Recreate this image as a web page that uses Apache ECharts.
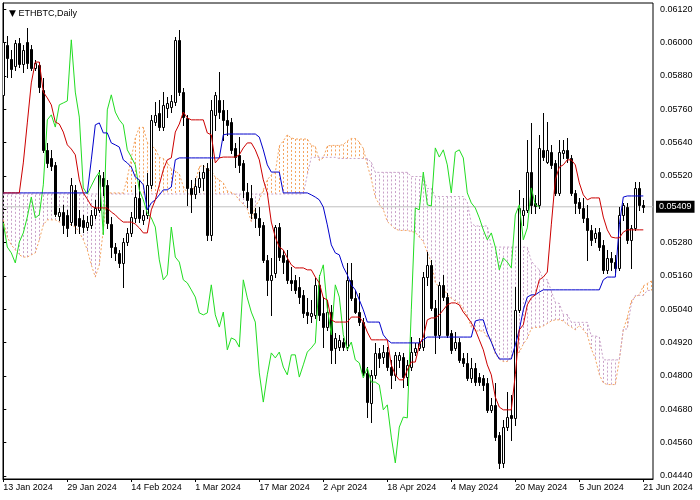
<!DOCTYPE html>
<html><head><meta charset="utf-8">
<script src="https://cdn.jsdelivr.net/npm/echarts@6.0.0/dist/echarts.min.js"></script>
<style>html,body{margin:0;padding:0;background:#fff}#c{width:700px;height:500px}</style>
</head><body><div id="c"></div>
<script>
const chartTitle = 'ETHBTC,Daily';
const tickDays = [0,16,32,48,64,80,96,112,128,144,160];
const tickLabels = ['13 Jan 2024','29 Jan 2024','14 Feb 2024','1 Mar 2024','17 Mar 2024','2 Apr 2024','18 Apr 2024','4 May 2024','20 May 2024','5 Jun 2024','21 Jun 2024'];
const priceTicks = [0.04440,0.04560,0.04680,0.04800,0.04920,0.05040,0.05160,0.05280,0.05400,0.05520,0.05640,0.05760,0.05880,0.06000,0.06120];
const priceLabelValues = [0.04440,0.04560,0.04680,0.04800,0.04920,0.05040,0.05160,0.05280,0.05520,0.05640,0.05760,0.05880,0.06000,0.06120];
const priceLabels = ['0.04440','0.04560','0.04680','0.04800','0.04920','0.05040','0.05160','0.05280','0.05520','0.05640','0.05760','0.05880','0.06000','0.06120'];
const lastPrice = 0.05409;
const xMin = -0.075, xMax = 162.425;

const open = [
0.05812,0.05992,0.05941,0.05916,0.05999,0.05923,0.06002,0.05977,0.05909,0.05920,
0.05830,0.05614,0.05585,0.05560,0.05376,0.05390,0.05380,0.05354,0.05470,0.05369,
0.05362,0.05336,0.05344,0.05380,0.05398,0.05513,0.05488,0.05347,0.05264,0.05243,
0.05207,0.05282,0.05315,0.05369,0.05441,0.05362,0.05380,0.05488,0.05714,0.05747,
0.05696,0.05765,0.05768,0.05786,0.06010,0.05822,0.05729,0.05477,0.05455,0.05480,
0.05513,0.05549,0.05308,0.05740,0.05794,0.05758,0.05722,0.05714,0.05621,0.05596,
0.05567,0.05462,0.05441,0.05387,0.05369,0.05344,0.05218,0.05146,0.05171,0.05336,
0.05236,0.05218,0.05146,0.05146,0.05120,0.05092,0.05030,0.05016,0.05020,0.05128,
0.05027,0.04976,0.05030,0.04901,0.04904,0.04922,0.04904,0.05146,0.05081,0.05030,
0.04994,0.04811,0.04703,0.04804,0.04883,0.04868,0.04886,0.04832,0.04804,0.04858,
0.04868,0.04796,0.04832,0.04886,0.04901,0.04904,0.05156,0.05200,0.05045,0.04948,
0.05128,0.05084,0.04955,0.04901,0.04922,0.04865,0.04847,0.04793,0.04829,0.04796,
0.04793,0.04775,0.04678,0.04696,0.04588,0.04487,0.04616,0.04660,0.04649,0.05038,
0.05380,0.05398,0.05534,0.05423,0.05416,0.05614,0.05570,0.05606,0.05567,0.05459,
0.05603,0.05614,0.05585,0.05459,0.05426,0.05405,0.05369,0.05326,0.05297,0.05318,
0.05272,0.05182,0.05225,0.05210,0.05189,0.05380,0.05408,0.05290,0.05333,0.05477,
0.05416];
const close = [
0.06002,0.05945,0.05905,0.05999,0.05923,0.05974,0.05927,0.05909,0.05927,0.05840,
0.05614,0.05567,0.05556,0.05383,0.05390,0.05344,0.05333,0.05488,0.05344,0.05340,
0.05336,0.05354,0.05380,0.05405,0.05524,0.05484,0.05351,0.05264,0.05243,0.05207,
0.05282,0.05315,0.05372,0.05444,0.05369,0.05380,0.05488,0.05722,0.05740,0.05696,
0.05776,0.05783,0.05790,0.06010,0.05822,0.05732,0.05477,0.05455,0.05484,0.05513,
0.05534,0.05308,0.05758,0.05812,0.05750,0.05722,0.05704,0.05614,0.05588,0.05560,
0.05470,0.05434,0.05387,0.05369,0.05336,0.05218,0.05146,0.05164,0.05336,0.05228,
0.05210,0.05146,0.05135,0.05110,0.05084,0.05027,0.05020,0.05027,0.05128,0.05020,
0.04976,0.05030,0.04894,0.04937,0.04930,0.04904,0.05146,0.05081,0.05030,0.04994,
0.04811,0.04706,0.04804,0.04883,0.04865,0.04886,0.04832,0.04804,0.04876,0.04876,
0.04796,0.04840,0.04886,0.04901,0.04919,0.05156,0.05200,0.05045,0.04948,0.05128,
0.05084,0.04948,0.04894,0.04922,0.04858,0.04847,0.04793,0.04829,0.04778,0.04778,
0.04768,0.04678,0.04696,0.04580,0.04487,0.04616,0.04652,0.04649,0.05038,0.05405,
0.05398,0.05534,0.05416,0.05412,0.05621,0.05588,0.05614,0.05560,0.05459,0.05606,
0.05614,0.05585,0.05459,0.05423,0.05405,0.05369,0.05326,0.05290,0.05315,0.05264,
0.05182,0.05225,0.05210,0.05189,0.05380,0.05416,0.05290,0.05333,0.05477,0.05416,
0.05409];
const low = [
0.05804,0.05876,0.05876,0.05902,0.05912,0.05894,0.05909,0.05902,0.05902,0.05822,
0.05606,0.05552,0.05542,0.05376,0.05362,0.05315,0.05304,0.05344,0.05315,0.05315,
0.05318,0.05326,0.05333,0.05369,0.05390,0.05452,0.05333,0.05228,0.05218,0.05192,
0.05120,0.05272,0.05304,0.05354,0.05354,0.05347,0.05369,0.05477,0.05704,0.05686,
0.05686,0.05732,0.05750,0.05776,0.05812,0.05704,0.05416,0.05390,0.05441,0.05462,
0.05470,0.05290,0.05290,0.05686,0.05729,0.05650,0.05668,0.05603,0.05552,0.05534,
0.05444,0.05408,0.05369,0.05336,0.05308,0.05210,0.05092,0.05020,0.05156,0.05218,
0.05171,0.05135,0.05110,0.05099,0.05063,0.05012,0.04991,0.04994,0.05009,0.05002,
0.04904,0.04966,0.04847,0.04847,0.04894,0.04894,0.04894,0.05074,0.05027,0.04984,
0.04804,0.04652,0.04634,0.04793,0.04832,0.04847,0.04822,0.04757,0.04786,0.04832,
0.04760,0.04768,0.04822,0.04876,0.04894,0.04894,0.05128,0.05038,0.04883,0.04937,
0.05074,0.04940,0.04883,0.04894,0.04850,0.04836,0.04786,0.04778,0.04768,0.04768,
0.04750,0.04670,0.04670,0.04570,0.04469,0.04472,0.04606,0.04570,0.04624,0.05030,
0.05344,0.05390,0.05387,0.05387,0.05405,0.05578,0.05567,0.05549,0.05452,0.05452,
0.05585,0.05570,0.05452,0.05387,0.05387,0.05354,0.05218,0.05272,0.05282,0.05254,
0.05171,0.05171,0.05182,0.05174,0.05182,0.05362,0.05279,0.05189,0.05326,0.05398,
0.05390];
const high = [
0.06028,0.06024,0.05974,0.06010,0.06017,0.05992,0.06053,0.05992,0.05938,0.05930,
0.05873,0.05639,0.05614,0.05570,0.05405,0.05416,0.05398,0.05513,0.05488,0.05398,
0.05380,0.05376,0.05398,0.05434,0.05542,0.05534,0.05506,0.05372,0.05279,0.05254,
0.05297,0.05333,0.05390,0.05488,0.05506,0.05398,0.05531,0.05740,0.05786,0.05794,
0.05822,0.05804,0.05812,0.06020,0.06046,0.05837,0.05740,0.05506,0.05513,0.05534,
0.05560,0.05567,0.05794,0.05822,0.05894,0.05794,0.05758,0.05729,0.05639,0.05660,
0.05578,0.05495,0.05488,0.05405,0.05408,0.05354,0.05236,0.05225,0.05344,0.05351,
0.05254,0.05254,0.05192,0.05164,0.05156,0.05110,0.05081,0.05074,0.05153,0.05164,
0.05084,0.05074,0.05056,0.04955,0.04948,0.04937,0.05207,0.05207,0.05110,0.05099,
0.05009,0.04832,0.04822,0.04919,0.04901,0.04912,0.04904,0.04858,0.04886,0.04886,
0.04883,0.04858,0.04940,0.04919,0.04937,0.05174,0.05246,0.05218,0.05074,0.05138,
0.05164,0.05099,0.04966,0.04958,0.04937,0.04883,0.04883,0.04865,0.04847,0.04811,
0.04804,0.04793,0.04721,0.04775,0.04598,0.04642,0.04742,0.04732,0.05120,0.05470,
0.05441,0.05650,0.05711,0.05452,0.05668,0.05747,0.05714,0.05632,0.05578,0.05650,
0.05650,0.05657,0.05596,0.05470,0.05441,0.05441,0.05416,0.05344,0.05333,0.05333,
0.05290,0.05254,0.05246,0.05236,0.05408,0.05423,0.05423,0.05344,0.05498,0.05498,
0.05434];
const tenkan = [
0.05459,0.05459,0.05459,0.05459,0.05459,0.05567,0.05711,0.05855,0.05930,0.05930,
0.05822,0.05801,0.05776,0.05714,0.05707,0.05678,0.05632,0.05617,0.05596,0.05506,
0.05459,0.05437,0.05412,0.05405,0.05405,0.05405,0.05405,0.05390,0.05380,0.05365,
0.05354,0.05354,0.05354,0.05347,0.05333,0.05315,0.05315,0.05398,0.05434,0.05488,
0.05542,0.05578,0.05585,0.05678,0.05707,0.05750,0.05729,0.05722,0.05722,0.05722,
0.05722,0.05675,0.05668,0.05567,0.05585,0.05588,0.05588,0.05588,0.05588,0.05596,
0.05621,0.05639,0.05639,0.05614,0.05578,0.05506,0.05459,0.05354,0.05300,0.05264,
0.05254,0.05225,0.05200,0.05189,0.05189,0.05189,0.05182,0.05182,0.05156,0.05135,
0.05081,0.05074,0.05002,0.04994,0.04994,0.04994,0.04994,0.05012,0.05012,0.05012,
0.04994,0.04958,0.04930,0.04930,0.04930,0.04930,0.04930,0.04840,0.04804,0.04786,
0.04786,0.04822,0.04850,0.04850,0.04912,0.04940,0.05002,0.05009,0.05009,0.05020,
0.05038,0.05056,0.05063,0.05063,0.05056,0.05030,0.05012,0.04991,0.04966,0.04930,
0.04894,0.04840,0.04804,0.04724,0.04688,0.04678,0.04678,0.04678,0.04804,0.04966,
0.04984,0.05056,0.05081,0.05092,0.05146,0.05156,0.05174,0.05344,0.05506,0.05552,
0.05560,0.05578,0.05578,0.05560,0.05495,0.05452,0.05434,0.05441,0.05441,0.05441,
0.05372,0.05326,0.05300,0.05297,0.05297,0.05318,0.05326,0.05326,0.05326,0.05326,
0.05326];
const kijun = [
0.05459,0.05459,0.05459,0.05459,0.05459,0.05459,0.05459,0.05459,0.05459,0.05459,
0.05459,0.05459,0.05459,0.05459,0.05459,0.05459,0.05459,0.05459,0.05459,0.05459,
0.05459,0.05459,0.05578,0.05704,0.05711,0.05675,0.05675,0.05639,0.05632,0.05624,
0.05578,0.05567,0.05552,0.05516,0.05506,0.05488,0.05398,0.05423,0.05434,0.05452,
0.05470,0.05470,0.05480,0.05578,0.05585,0.05585,0.05585,0.05585,0.05585,0.05585,
0.05585,0.05585,0.05585,0.05585,0.05585,0.05668,0.05671,0.05671,0.05671,0.05671,
0.05671,0.05671,0.05671,0.05671,0.05660,0.05614,0.05560,0.05534,0.05534,0.05534,
0.05459,0.05459,0.05459,0.05459,0.05459,0.05459,0.05459,0.05452,0.05444,0.05434,
0.05408,0.05344,0.05272,0.05243,0.05236,0.05192,0.05164,0.05128,0.05110,0.05074,
0.05038,0.04994,0.04994,0.04994,0.04994,0.04948,0.04930,0.04919,0.04919,0.04919,
0.04919,0.04919,0.04919,0.04919,0.04919,0.04930,0.04940,0.04940,0.04940,0.04940,
0.04940,0.04940,0.04940,0.04940,0.04940,0.04940,0.04940,0.04940,0.04998,0.05002,
0.05002,0.04955,0.04922,0.04886,0.04861,0.04861,0.04861,0.04861,0.04912,0.04966,
0.05038,0.05084,0.05092,0.05092,0.05102,0.05110,0.05110,0.05110,0.05110,0.05110,
0.05110,0.05110,0.05110,0.05110,0.05110,0.05110,0.05110,0.05110,0.05110,0.05110,
0.05146,0.05156,0.05156,0.05156,0.05344,0.05444,0.05448,0.05448,0.05448,0.05448,
0.05448];
const spanA = [
0.05362,0.05300,0.05272,0.05254,0.05236,0.05228,0.05228,0.05236,0.05243,0.05290,
0.05344,0.05362,0.05362,0.05362,0.05354,0.05354,0.05351,0.05344,0.05336,0.05318,
0.05290,0.05254,0.05200,0.05156,0.05200,0.05326,0.05459,0.05459,0.05459,0.05459,
0.05459,0.05513,0.05585,0.05657,0.05695,0.05695,0.05641,0.05630,0.05617,0.05587,
0.05583,0.05569,0.05545,0.05538,0.05527,0.05482,0.05459,0.05448,0.05495,0.05554,
0.05558,0.05540,0.05540,0.05515,0.05506,0.05495,0.05466,0.05461,0.05453,0.05432,
0.05419,0.05401,0.05356,0.05410,0.05434,0.05470,0.05506,0.05524,0.05533,0.05628,
0.05646,0.05668,0.05657,0.05653,0.05653,0.05653,0.05653,0.05630,0.05626,0.05576,
0.05585,0.05628,0.05630,0.05630,0.05630,0.05633,0.05646,0.05655,0.05655,0.05642,
0.05619,0.05560,0.05509,0.05444,0.05417,0.05399,0.05356,0.05342,0.05329,0.05324,
0.05324,0.05324,0.05320,0.05317,0.05300,0.05284,0.05245,0.05209,0.05137,0.05119,
0.05115,0.05093,0.05079,0.05070,0.05061,0.05043,0.05016,0.04976,0.04962,0.04962,
0.04962,0.04939,0.04930,0.04879,0.04861,0.04852,0.04852,0.04870,0.04885,0.04885,
0.04915,0.04935,0.04971,0.04975,0.04975,0.04980,0.04989,0.04998,0.05002,0.05002,
0.04998,0.04985,0.04976,0.04966,0.04982,0.04966,0.04948,0.04897,0.04863,0.04805,
0.04775,0.04769,0.04769,0.04769,0.04858,0.04966,0.05011,0.05070,0.05086,0.05092,
0.05124,0.05133,0.05142];
const spanB = [
0.05455,0.05455,0.05455,0.05455,0.05455,0.05455,0.05455,0.05455,0.05455,0.05455,
0.05455,0.05455,0.05455,0.05455,0.05455,0.05455,0.05455,0.05455,0.05455,0.05455,
0.05455,0.05455,0.05455,0.05455,0.05455,0.05455,0.05455,0.05455,0.05455,0.05455,
0.05455,0.05455,0.05455,0.05455,0.05455,0.05455,0.05455,0.05455,0.05455,0.05455,
0.05455,0.05455,0.05455,0.05455,0.05455,0.05455,0.05455,0.05455,0.05455,0.05455,
0.05455,0.05455,0.05455,0.05455,0.05455,0.05455,0.05455,0.05455,0.05455,0.05455,
0.05455,0.05455,0.05455,0.05455,0.05455,0.05455,0.05455,0.05455,0.05455,0.05455,
0.05455,0.05455,0.05455,0.05455,0.05455,0.05455,0.05524,0.05587,0.05587,0.05587,
0.05587,0.05587,0.05587,0.05587,0.05583,0.05583,0.05583,0.05583,0.05583,0.05583,
0.05583,0.05583,0.05569,0.05533,0.05533,0.05533,0.05533,0.05533,0.05533,0.05533,
0.05533,0.05533,0.05518,0.05518,0.05518,0.05518,0.05475,0.05475,0.05446,0.05446,
0.05446,0.05446,0.05446,0.05446,0.05446,0.05446,0.05425,0.05349,0.05340,0.05340,
0.05340,0.05340,0.05264,0.05264,0.05264,0.05264,0.05264,0.05264,0.05264,0.05264,
0.05264,0.05264,0.05214,0.05196,0.05182,0.05147,0.05147,0.05106,0.05065,0.05061,
0.05021,0.05021,0.04994,0.04993,0.04993,0.04993,0.04993,0.04944,0.04944,0.04940,
0.04858,0.04858,0.04858,0.04858,0.04858,0.04969,0.04969,0.05059,0.05090,0.05090,
0.05090,0.05108,0.05108];
const chikouShift = 26;

const FONT = "'Liberation Sans', Arial, sans-serif";
const chart = echarts.init(document.getElementById('c'), null, {renderer: 'canvas'});

const candleData = open.map((o, i) => [i, o, close[i], low[i], high[i]]);
const cloudData = spanA.map((a, i) => [i, a, spanB[i]]);
const toXY = arr => arr.map((v, i) => [i, v]);
const chikouData = close.slice(chikouShift).map((v, i) => [i, v]);

function renderCandle(params, api) {
  const d = api.value(0), o = api.value(1), c = api.value(2), l = api.value(3), h = api.value(4);
  const pO = api.coord([d, o]), pC = api.coord([d, c]), pL = api.coord([d, l]), pH = api.coord([d, h]);
  const X = Math.floor(pO[0]) + 0.5;
  let top = Math.round(Math.min(pO[1], pC[1])) + 0.5;
  let bot = Math.round(Math.max(pO[1], pC[1])) + 0.5;
  if (bot - top < 1) bot = top + 1;
  return {
    type: 'group',
    children: [
      {type: 'line', shape: {x1: X, y1: Math.round(pH[1]), x2: X, y2: Math.round(pL[1]) + 1}, style: {stroke: '#000', lineWidth: 1}},
      {type: 'rect', shape: {x: X - 1, y: top, width: 2, height: bot - top}, style: {fill: c >= o ? '#fff' : '#000', stroke: '#000', lineWidth: 1}}
    ]
  };
}
function renderCloud(params, api) {
  const d = api.value(0), a = api.value(1), b = api.value(2);
  const pA = api.coord([d, a]), pB = api.coord([d, b]);
  const X = Math.floor(pA[0]) + 0.5;
  return {
    type: 'line',
    shape: {x1: X, y1: pA[1], x2: X, y2: pB[1]},
    style: {stroke: a >= b ? '#F4A460' : '#c9a2c9', lineWidth: 1, lineDash: [2, 2]}
  };
}

chart.setOption({
  animation: false,
  backgroundColor: '#fff',
  title: {
    text: '{t|▼} ' + chartTitle,
    left: 4, top: 4,
    textStyle: {fontSize: 9, fontWeight: 'normal', color: '#000', fontFamily: FONT,
      rich: {t: {fontSize: 9, color: '#000', fontFamily: 'DejaVu Sans'}}}
  },
  grid: {left: 3, right: 47, top: 3, bottom: 21, show: true, borderColor: '#000', borderWidth: 1, backgroundColor: 'transparent'},
  xAxis: {
    type: 'value', min: xMin, max: xMax,
    axisLine: {show: true, lineStyle: {color: '#000'}},
    axisTick: {show: true, customValues: tickDays, length: 3, lineStyle: {color: '#000'}},
    axisLabel: {show: true, customValues: tickDays, align: 'left', margin: 4, fontSize: 9, color: '#000', fontFamily: FONT,
      formatter: v => tickLabels[tickDays.indexOf(Math.round(v))] || ''},
    splitLine: {show: false}
  },
  yAxis: {
    type: 'value', position: 'right', min: 0.0442908, max: 0.0614268, scale: true,
    axisLine: {show: true, lineStyle: {color: '#000'}},
    axisTick: {show: true, customValues: priceTicks, length: 3, lineStyle: {color: '#000'}},
    axisLabel: {show: true, customValues: priceLabelValues, margin: 7, fontSize: 9, color: '#000', fontFamily: FONT,
      formatter: v => { let k = 0, best = 1; priceLabelValues.forEach((p, i) => { if (Math.abs(p - v) < best) { best = Math.abs(p - v); k = i; } }); return priceLabels[k]; }},
    splitLine: {show: false}
  },
  series: [
    {type: 'custom', name: 'cloud', data: cloudData, renderItem: renderCloud, clip: true, z: 1, silent: true},
    {type: 'line', name: 'Senkou A', data: toXY(spanA), showSymbol: false, z: 2, silent: true,
      lineStyle: {color: '#F4A460', width: 1, type: [2, 2]}},
    {type: 'line', name: 'Senkou B', data: toXY(spanB), showSymbol: false, z: 2, silent: true,
      lineStyle: {color: '#c9a2c9', width: 1, type: [2, 2]}},
    {type: 'line', name: 'Bid', data: [[xMin, lastPrice], [xMax, lastPrice]], showSymbol: false, z: 3, silent: true,
      lineStyle: {color: '#c0c0c0', width: 1},
      endLabel: {show: true, formatter: lastPrice.toFixed(5), color: '#fff', backgroundColor: '#000',
        padding: [2, 3, 1, 3], fontSize: 9, fontFamily: FONT, distance: 3}},
    {type: 'custom', name: 'candles', data: candleData, renderItem: renderCandle, clip: true, z: 4, silent: true},
    {type: 'line', name: 'Chikou', data: chikouData, showSymbol: false, z: 5, silent: true,
      lineStyle: {color: '#22dd22', width: 1}},
    {type: 'line', name: 'Kijun', data: toXY(kijun), showSymbol: false, z: 6, silent: true,
      lineStyle: {color: '#0000cc', width: 1}},
    {type: 'line', name: 'Tenkan', data: toXY(tenkan), showSymbol: false, z: 7, silent: true,
      lineStyle: {color: '#cc0000', width: 1}}
  ]
});
</script></body></html>
